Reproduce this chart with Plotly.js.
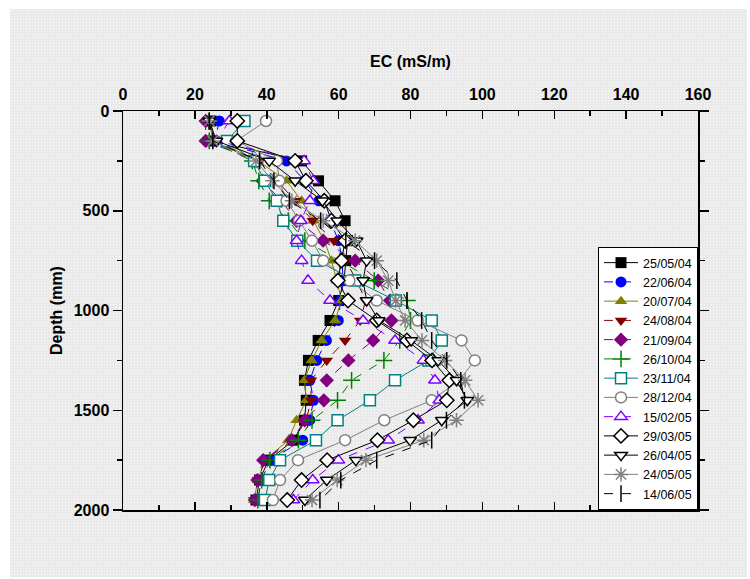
<!DOCTYPE html>
<html>
<head>
<meta charset="utf-8">
<script src="https://cdn.plot.ly/plotly-3.0.1.min.js"></script>
<style>
  html, body { margin: 0; padding: 0; background: #ffffff; }
  #wrap { position: relative; width: 750px; height: 579px; }
  #backdrop {
    position: absolute; left: 10px; top: 9px; width: 737px; height: 568px;
    background-color: #eaeaea;
    background-image: radial-gradient(circle, #fbfbfb 0.7px, transparent 0.9px);
    background-size: 3px 3px;
  }
  #chart { position: absolute; left: 0; top: 0; width: 750px; height: 579px; }
</style>
</head>
<body>
<div id="wrap">
  <div id="backdrop"></div>
  <div id="chart"></div>
</div>
<script>
// Sampling depths (mm)
const depth = [50, 150, 250, 350, 450, 550, 650, 750, 850, 950,
               1050, 1150, 1250, 1350, 1450, 1550, 1650, 1750, 1850, 1950];

// Survey dates
const dates = ["25/05/04", "22/06/04", "20/07/04", "24/08/04", "21/09/04", "26/10/04",
               "23/11/04", "28/12/04", "15/02/05", "29/03/05", "26/04/05", "24/05/05", "14/06/05"];

// EC (mS/m) profiles, one per survey date
const ec_250504 = [24.5, 25, 49.7, 54.4, 59, 61.8, 62.5, 62, 61.5, 60, 57.6, 54.3, 51.6, 50.5, 51, 50.5, 47.5, 40.5, 38, 37];
const ec_220604 = [26.8, 25.5, 45.5, 50.6, 54.5, 57.6, 60, 61, 61.2, 60.5, 59.9, 56.6, 53.9, 52, 53, 52, 50, 41, 38.5, 37.5];
const ec_200704 = [24, 26, 37.5, 45.5, 49.7, 53, 56, 58, 59.5, 60.8, 59, 55.3, 52.5, 50.5, 51, 48.3, 46, 39.5, 37.5, 36.5];
const ec_240804 = [24, 24, 38, 43, 48, 52.8, 58.7, 62, 65, 67.5, 66, 61.8, 56.7, 52.3, 52.3, 51, 47.3, 39.5, 37.5, 36.5];
const ec_210904 = [23, 23, 37, 38.8, 44, 48.3, 55.7, 64.6, 71, 74.3, 74.7, 69.6, 62.7, 56.7, 55.9, 50.6, 47, 39, 37.4, 36.7];
const ec_261004 = [24, 24, 36, 37.8, 40.7, 46, 50.6, 60.4, 69.9, 79.1, 80, 77, 72.6, 63.6, 59.7, 52.6, 48.8, 40.9, 38.6, 37.5];
const ec_231104 = [33.8, 28.9, 36.5, 39.5, 42.8, 44.6, 48.5, 54, 64.6, 75.9, 85.9, 88.7, 85, 75.7, 68.7, 59.7, 53.7, 43.7, 40.7, 39.5];
const ec_281204 = [39.8, 31.5, 42.8, 43.5, 45.5, 49, 52.6, 55.7, 63, 70.6, 82, 94.2, 97.9, 93.5, 85.9, 72.7, 61.8, 48.7, 43.7, 41.7];
const ec_150205 = [29.6, 26, 50.4, 52.9, 52, 49.5, 48.3, 49.7, 51.5, 57.6, 66.8, 75.7, 83.6, 86.8, 88, 82.1, 73.8, 59.9, 52.8, 47.4];
const ec_290305 = [31.8, 31.8, 47.9, 50.9, 56, 58, 61.8, 60.8, 59.8, 62.6, 70.6, 79, 86, 90.8, 90.1, 80.8, 70.8, 56.8, 49.7, 45.7];
const ec_260405 = [24, 26, 40.7, 47.9, 55.5, 59.6, 65, 67.8, 66.8, 67.8, 71.2, 80.2, 87.7, 92.8, 95.8, 88.7, 79.9, 64.8, 56.7, 50.6];
const ec_240505 = [24, 25, 37, 41.6, 47, 55.7, 64.6, 70.6, 73.8, 75.9, 78.5, 83.2, 89.6, 95.2, 98.8, 92.8, 83.7, 67.6, 59.6, 52.6];
const ec_140605 = [24, 25, 38, 42, 46.3, 55, 62, 70, 76.2, 79, 83.1, 85.9, 90.1, 94, 95, 90, 85.9, 70.6, 60.6, 54.8];

const profiles = [ec_250504, ec_220604, ec_200704, ec_240804, ec_210904, ec_261004,
                  ec_231104, ec_281204, ec_150205, ec_290305, ec_260405, ec_240505, ec_140605];

// Per-series look: colour, symbol, open (white-filled) or solid, line dash
const looks = [
  {c: "#000000", s: "square",        open: false, dash: "solid"},
  {c: "#0000ff", s: "circle",        open: false, dash: "dash"},
  {c: "#808000", s: "triangle-up",   open: false, dash: "solid"},
  {c: "#800000", s: "triangle-down", open: false, dash: "dash"},
  {c: "#800080", s: "diamond",       open: false, dash: "dash"},
  {c: "#008000", s: "cross-thin-open", open: false, dash: "dash", stroke: true},
  {c: "#008080", s: "square",        open: true,  dash: "solid"},
  {c: "#808080", s: "circle",        open: true,  dash: "solid"},
  {c: "#8000ff", s: "triangle-up",   open: true,  dash: "dash"},
  {c: "#000000", s: "diamond",       open: true,  dash: "solid"},
  {c: "#000000", s: "triangle-down", open: true,  dash: "solid"},
  {c: "#808080", s: "asterisk-open", open: false, dash: "solid", stroke: true},
  {c: "#000000", s: "line-ns-open",  open: false, dash: "dash", stroke: true}
];

const traces = profiles.map((vals, i) => {
  const lk = looks[i];
  let marker;
  if (lk.stroke) {
    marker = {symbol: lk.s, size: 12, color: lk.c, line: {color: lk.c, width: 1.5}};
  } else if (lk.open) {
    marker = {symbol: lk.s, size: 11, color: "#ffffff", line: {color: lk.c, width: 1.5}};
  } else {
    marker = {symbol: lk.s, size: 11, color: lk.c, line: {width: 0}};
  }
  return {
    type: "scatter",
    mode: "lines+markers",
    name: dates[i],
    x: vals,
    y: depth,
    line: {color: lk.c, width: 1, dash: lk.dash},
    marker: marker
  };
});

const boldFont = {family: "Liberation Sans, Arial, sans-serif", size: 16, color: "#000", weight: "bold"};

const layout = {
  width: 750,
  height: 579,
  margin: {l: 123, r: 52, t: 111, b: 69},
  paper_bgcolor: "rgba(0,0,0,0)",
  plot_bgcolor: "rgba(0,0,0,0)",
  font: {family: "Liberation Sans, Arial, sans-serif", color: "#000"},
  showlegend: true,
  legend: {
    x: 1, y: 0, xanchor: "right", yanchor: "bottom",
    bgcolor: "#ffffff", bordercolor: "#000000", borderwidth: 1,
    font: {family: "Liberation Sans, Arial, sans-serif", size: 12.5, color: "#000"},
    itemwidth: 34,
    tracegroupgap: 0
  },
  xaxis: {
    side: "top",
    range: [0, 160],
    dtick: 20,
    tick0: 0,
    ticks: "inside",
    ticklen: 8,
    tickwidth: 1.5,
    tickcolor: "#000",
    ticklabelstandoff: 3,
    minor: {dtick: 10, ticks: "inside", ticklen: 5, tickwidth: 1.5, tickcolor: "#000"},
    showline: true,
    linecolor: "#000",
    linewidth: 1.5,
    mirror: "ticks",
    showgrid: false,
    zeroline: false,
    tickfont: boldFont,
    title: {text: "EC (mS/m)", font: boldFont, standoff: 14}
  },
  yaxis: {
    range: [2000, 0],
    dtick: 500,
    tick0: 0,
    ticks: "outside",
    ticklen: 9,
    tickwidth: 1.5,
    tickcolor: "#000",
    minor: {dtick: 250, ticks: "outside", ticklen: 5, tickwidth: 1.5, tickcolor: "#000"},
    showline: true,
    linecolor: "#000",
    linewidth: 1.5,
    mirror: "ticks",
    showgrid: false,
    zeroline: false,
    tickfont: boldFont,
    title: {text: "Depth (mm)", font: boldFont, standoff: 7}
  }
};

Plotly.newPlot("chart", traces, layout, {displayModeBar: false, staticPlot: true});
</script>
</body>
</html>
